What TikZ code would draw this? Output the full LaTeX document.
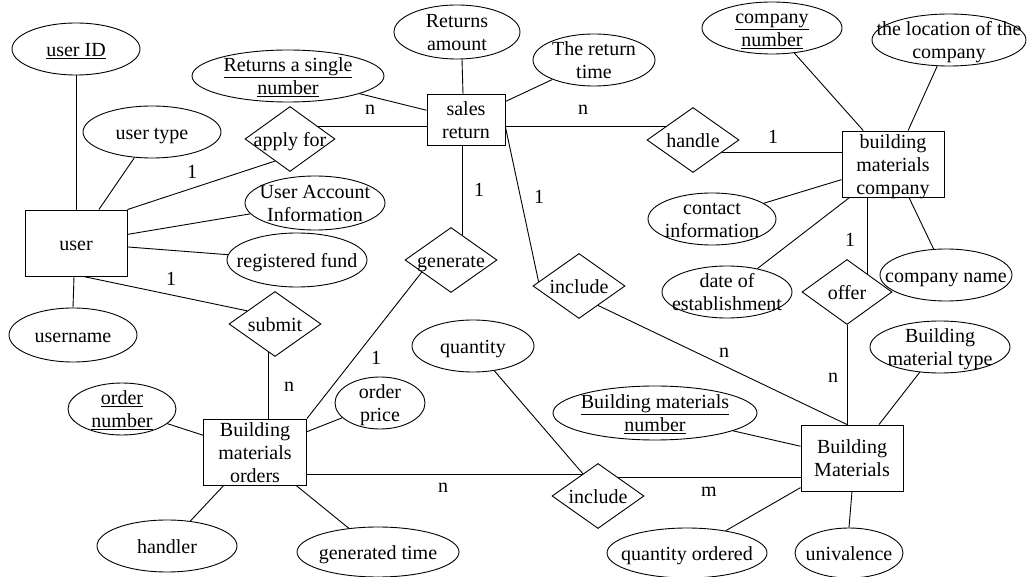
\documentclass[tikz,border=0pt]{standalone}
\usepackage{fontspec}
\setmainfont{Liberation Serif}
\usetikzlibrary{shapes.geometric,calc}
\newcommand{\zt}[1]{\smash{\raisebox{-8pt}{\makebox[0pt]{\begin{tabular}{@{}c@{}}#1\end{tabular}}}}}
\tikzset{
  ent/.style={draw, rectangle, inner sep=0pt},
  attr/.style={draw, ellipse, inner sep=0pt},
  rel/.style={draw, diamond, inner sep=0pt},
  card/.style={inner sep=0pt},
  conn/.style={draw}
}
\begin{document}
\begin{tikzpicture}[x=1pt,y=-1pt,line width=0.9pt,
  every node/.append style={font=\fontsize{20}{23}\selectfont}]
\useasboundingbox (0,0) rectangle (1029,577);
% entities
\node[ent, minimum width=102, minimum height=66] (user) at (76,243) {\zt{user}};
\node[ent, minimum width=78, minimum height=51] (sr) at (466,120) {\zt{sales\\return}};
\node[ent, minimum width=102, minimum height=66] (bmc) at (893,164) {\zt{building\\materials\\company}};
\node[ent, minimum width=103, minimum height=66] (bmo) at (255,452) {\zt{Building\\materials\\orders}};
\node[ent, minimum width=102, minimum height=66] (bm) at (852,458) {\zt{Building\\Materials}};
% relationships
\node[rel, minimum width=90, minimum height=65] (apply) at (290,139) {\zt{apply for}};
\node[rel, minimum width=92, minimum height=65] (generate) at (451,260) {\zt{generate}};
\node[rel, minimum width=92, minimum height=65] (submit) at (275,324) {\zt{submit}};
\node[rel, minimum width=92, minimum height=65] (handle) at (693,140) {\zt{handle}};
\node[rel, minimum width=92, minimum height=65] (incU) at (579,286) {\zt{include}};
\node[rel, minimum width=90, minimum height=65] (offer) at (847,292) {\zt{offer}};
\node[rel, minimum width=92, minimum height=65] (incL) at (598,496) {\zt{include}};
% attributes
\node[attr, minimum width=128, minimum height=52] (userid) at (76,49) {\zt{\underline{user ID}}};
\node[attr, minimum width=138, minimum height=52] (usertype) at (152,132) {\zt{user type}};
\node[attr, minimum width=140, minimum height=54] (uai) at (315,203) {\zt{User Account\\Information}};
\node[attr, minimum width=140, minimum height=54] (regfund) at (297,260) {\zt{registered fund}};
\node[attr, minimum width=128, minimum height=54] (username) at (73,335) {\zt{username}};
\node[attr, minimum width=192, minimum height=52] (rsn) at (288,76) {\zt{\underline{Returns a single}\\\underline{number}}};
\node[attr, minimum width=126, minimum height=54] (ramount) at (457,32) {\zt{Returns\\amount}};
\node[attr, minimum width=122, minimum height=52] (rtime) at (594,60) {\zt{The return\\time}};
\node[attr, minimum width=140, minimum height=52] (compnum) at (772,28) {\zt{\underline{company}\\\underline{number}}};
\node[attr, minimum width=154, minimum height=52] (location) at (949,40) {\zt{the location of the\\company}};
\node[attr, minimum width=128, minimum height=52] (contact) at (712,219) {\zt{contact\\information}};
\node[attr, minimum width=130, minimum height=52] (date) at (727,292) {\zt{date of\\establishment}};
\node[attr, minimum width=132, minimum height=52] (compname) at (946,275) {\zt{company name}};
\node[attr, minimum width=108, minimum height=52] (ordernum) at (122,409) {\zt{\underline{order}\\\underline{number}}};
\node[attr, minimum width=90, minimum height=52] (orderprice) at (380,403) {\zt{order\\price}};
\node[attr, minimum width=122, minimum height=52] (quantity) at (473,346) {\zt{quantity}};
\node[attr, minimum width=140, minimum height=52] (handler) at (167,546) {\zt{handler}};
\node[attr, minimum width=162, minimum height=50] (gentime) at (378,552) {\zt{generated time}};
\node[attr, minimum width=204, minimum height=54] (bmn) at (655,413) {\zt{\underline{Building materials}\\\underline{number}}};
\node[attr, minimum width=140, minimum height=52] (bmtype) at (940,347) {\zt{Building\\material type}};
\node[attr, minimum width=160, minimum height=50] (qordered) at (687,553) {\zt{quantity ordered}};
\node[attr, minimum width=108, minimum height=50] (univalence) at (849,553) {\zt{univalence}};
% connectors
\draw (userid.south) -- (user.north);
\draw (usertype) -- (user);
\draw (user.north east) -- ($(apply.south)!0.33!(apply.west)$);
\draw (uai) -- (user);
\draw (regfund) -- (user);
\draw ($(user.south)+(-2,0)$) -- (username.north);
\draw ($(user.south west)!0.57!(user.south east)$) -- ($(submit.west)!0.4!(submit.north)$);
\draw ($(submit.center)+(-7,27.6)$) -- ($(bmo.north)+(13,0)$);
\draw (rsn) -- (sr);
\draw ($(apply.east)+(-18,-13)$) -- ($(sr.west)+(0,6)$);
\draw ($(ramount.south)+(5,0)$) -- ($(sr.north)+(-3,0)$);
\draw (rtime) -- (sr);
\draw ($(sr.east)+(0,6)$) -- ($(handle.west)+(19.8,-14)$);
\draw ($(handle.east)+(-17,12)$) -- ($(bmc.west)+(0,-12)$);
\draw (compnum) -- (bmc);
\draw (location) -- (bmc);
\draw (contact) -- (bmc);
\draw (date) -- (bmc);
\draw ($(bmc.south)+(-26,0)$) -- ($(offer.center)+(20,-18)$);
\draw (compname) -- (bmc);
\draw ($(sr.east)+(0,7)$) -- ($(incU.west)!0.13!(incU.north)$);
\draw ($(sr.south)+(-4,0)$) -- ($(generate.center)+(11,-24.7)$);
\draw ($(generate.west)!0.37!(generate.south)$) -- (bmo.north east);
\draw (ordernum) -- (bmo);
\draw (orderprice) -- (bmo);
\draw ($(bmo.east)+(0,22)$) -- ($(incL.center)+(-14.9,-22)$);
\draw (quantity) -- ($(incL.center)+(-14.9,-22)$);
\draw ($(incL.center)+(19.1,-19)$) -- ($(bm.west)+(0,19)$);
\draw ($(incU.south)!0.41!(incU.east)$) -- ($(bm.north)+(-5,0)$);
\draw (offer.south) -- ($(bm.north)+(-5,0)$);
\draw ($(bmtype.center)+(-20,24.9)$) -- ($(bm.north)+(27,0)$);
\draw (bmn) -- (bm);
\draw (qordered) -- (bm);
\draw (bm.south) -- (univalence.north);
\draw (bmo) -- (handler);
\draw (bmo) -- (gentime);
% cardinalities
\node[card] (c1) at (370,110) {n};
\node[card] (c2) at (192,172) {1};
\node[card] (c3) at (479,190) {1};
\node[card] (c4) at (171,279) {1};
\node[card] (c5) at (289,387) {n};
\node[card] (c6) at (376,358) {1};
\node[card] (c7) at (443,488) {n};
\node[card] (c8) at (583,110) {n};
\node[card] (c9) at (773,137) {1};
\node[card] (c10) at (539,197) {1};
\node[card] (c11) at (850,240) {1};
\node[card] (c12) at (724,353) {n};
\node[card] (c13) at (833,378) {n};
\node[card] (c14) at (709,492) {m};
\end{tikzpicture}
\end{document}
